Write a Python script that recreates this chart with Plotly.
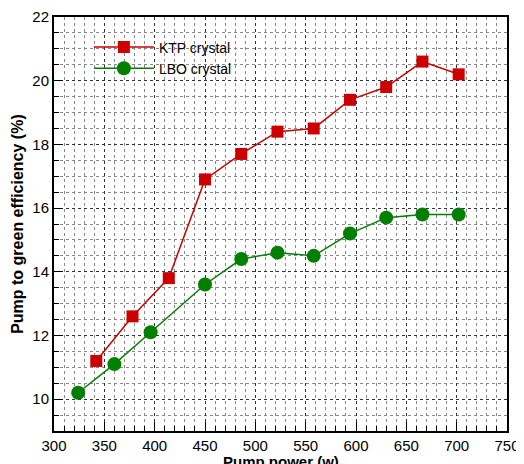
import plotly.graph_objects as go

ktp_x = [342, 378, 414, 450, 486, 522, 558, 594, 630, 666, 702]
ktp_y = [11.2, 12.6, 13.8, 16.9, 17.7, 18.4, 18.5, 19.4, 19.8, 20.6, 20.2]
lbo_x = [324, 360, 396, 450, 486, 522, 558, 594, 630, 666, 702]
lbo_y = [10.2, 11.1, 12.1, 13.6, 14.4, 14.6, 14.5, 15.2, 15.7, 15.8, 15.8]

fig = go.Figure()
fig.add_trace(go.Scatter(x=ktp_x, y=ktp_y, mode="lines+markers", name="KTP crystal",
                         line=dict(color="#cc0000", width=1.5),
                         marker=dict(symbol="square", size=12, color="#cc0000")))
fig.add_trace(go.Scatter(x=lbo_x, y=lbo_y, mode="lines+markers", name="LBO crystal",
                         line=dict(color="#008000", width=1.5),
                         marker=dict(symbol="circle", size=14, color="#008000")))

axis_common = dict(
    showline=True, linecolor="black", linewidth=2, mirror=True,
    ticks="inside", tickcolor="black", ticklen=9, tickwidth=1,
    showgrid=True, gridcolor="#333333", griddash="dot", gridwidth=1,
    zeroline=False, automargin=False,
    tickfont=dict(family="Liberation Sans, Arial", size=15, color="black"),
)

fig.update_xaxes(range=[300, 750], dtick=50, tick0=300,
                 minor=dict(dtick=10, ticks="inside", ticklen=5, tickcolor="black",
                            showgrid=True, gridcolor="#888888", griddash="dot", gridwidth=1),
                 **axis_common)
fig.update_yaxes(range=[9, 22], dtick=2, tick0=10,
                 minor=dict(dtick=0.5, ticks="inside", ticklen=5, tickcolor="black",
                            showgrid=True, gridcolor="#888888", griddash="dot", gridwidth=1),
                 **axis_common)

fig.add_annotation(text="<b>Pump power (w)</b>", xref="paper", yref="paper",
                   x=0.5, y=-0.074, xanchor="center", yanchor="middle",
                   showarrow=False,
                   font=dict(family="Liberation Sans, Arial", size=15, color="black"))
fig.add_annotation(text="<b>Pump to green efficiency (%)</b>", xref="paper", yref="paper",
                   x=-0.082, y=0.5, xanchor="center", yanchor="middle", textangle=-90,
                   showarrow=False,
                   font=dict(family="Liberation Sans, Arial", size=16, color="black"))

fig.update_layout(
    width=516, height=456,
    margin=dict(l=46, r=17, t=9, b=33),
    paper_bgcolor="white", plot_bgcolor="white",
    showlegend=True,
    legend=dict(x=0.077, y=0.965, xanchor="left", yanchor="top",
                bgcolor="rgba(0,0,0,0)", tracegroupgap=0, itemwidth=60,
                font=dict(family="Liberation Sans, Arial", size=14, color="black")),
)

fig.write_html("out.html")
